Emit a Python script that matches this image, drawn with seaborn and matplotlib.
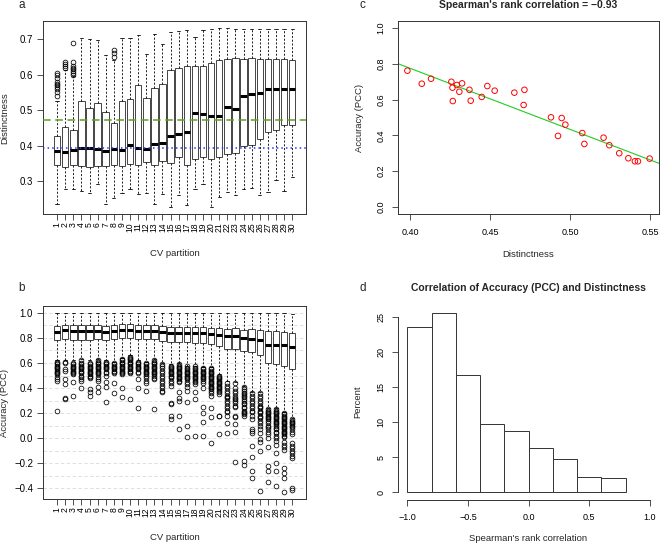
import matplotlib
matplotlib.use("Agg")
import matplotlib.pyplot as plt
import seaborn as sns
import numpy as np

sns.set_style("ticks")
plt.rcParams["font.family"] = ["Liberation Sans", "DejaVu Sans"]

partitions = list(range(1, 31))

# a: distinctness per CV partition
a_whislo = [0.235, 0.277, 0.279, 0.272, 0.268, 0.291, 0.235, 0.253, 0.268, 0.277,
            0.265, 0.268, 0.237, 0.265, 0.228, 0.262, 0.232, 0.277, 0.291, 0.228,
            0.257, 0.270, 0.262, 0.277, 0.281, 0.262, 0.269, 0.305, 0.273, 0.312]
a_q1 = [0.345, 0.340, 0.347, 0.344, 0.340, 0.344, 0.344, 0.345, 0.342, 0.350,
        0.347, 0.355, 0.347, 0.358, 0.352, 0.367, 0.347, 0.364, 0.369, 0.364,
        0.369, 0.378, 0.380, 0.400, 0.403, 0.418, 0.440, 0.445, 0.459, 0.458]
a_med = [0.384, 0.381, 0.389, 0.394, 0.393, 0.392, 0.384, 0.392, 0.389, 0.403,
         0.393, 0.391, 0.405, 0.407, 0.426, 0.433, 0.438, 0.492, 0.490, 0.483,
         0.485, 0.509, 0.503, 0.541, 0.545, 0.547, 0.560, 0.560, 0.560, 0.560]
a_q3 = [0.426, 0.452, 0.445, 0.527, 0.506, 0.520, 0.495, 0.464, 0.526, 0.531,
        0.570, 0.535, 0.563, 0.573, 0.612, 0.618, 0.624, 0.623, 0.624, 0.633,
        0.641, 0.645, 0.647, 0.643, 0.646, 0.645, 0.645, 0.645, 0.645, 0.642]
a_whishi = [0.525, 0.612, 0.595, 0.702, 0.700, 0.698, 0.656, 0.640, 0.703, 0.703,
            0.712, 0.659, 0.714, 0.686, 0.720, 0.723, 0.725, 0.705, 0.725, 0.728,
            0.730, 0.730, 0.729, 0.729, 0.729, 0.728, 0.728, 0.728, 0.728, 0.728]
a_fliers = [[0.54, 0.55, 0.56, 0.565, 0.57, 0.575, 0.58, 0.59, 0.60, 0.605],
            [0.62, 0.625, 0.63, 0.635],
            [0.60, 0.605, 0.61, 0.615, 0.62, 0.625, 0.635, 0.69],
            [], [], [], [],
            [0.65, 0.66, 0.67]] + [[] for _ in range(22)]
a_green = 0.472
a_blue = 0.395

# b: accuracy (PCC) per CV partition
b_whislo = [0.62, 0.62, 0.62, 0.63, 0.62, 0.63, 0.62, 0.61, 0.64, 0.66,
            0.62, 0.61, 0.63, 0.60, 0.59, 0.60, 0.58, 0.58, 0.57, 0.57,
            0.51, 0.46, 0.45, 0.42, 0.37, 0.37, 0.24, 0.24, 0.21, 0.16]
b_q1 = [0.782, 0.793, 0.787, 0.787, 0.782, 0.792, 0.787, 0.792, 0.800, 0.803,
        0.790, 0.792, 0.792, 0.779, 0.766, 0.766, 0.766, 0.760, 0.760, 0.755,
        0.734, 0.715, 0.715, 0.694, 0.686, 0.667, 0.601, 0.595, 0.574, 0.556]
b_med = [0.848, 0.862, 0.859, 0.856, 0.854, 0.859, 0.851, 0.856, 0.862, 0.862,
         0.854, 0.856, 0.859, 0.845, 0.840, 0.843, 0.840, 0.840, 0.838, 0.832,
         0.827, 0.819, 0.814, 0.800, 0.795, 0.787, 0.747, 0.742, 0.742, 0.729]
b_q3 = [0.893, 0.907, 0.907, 0.907, 0.907, 0.907, 0.899, 0.904, 0.912, 0.915,
        0.901, 0.907, 0.904, 0.893, 0.885, 0.888, 0.888, 0.885, 0.885, 0.883,
        0.880, 0.872, 0.877, 0.867, 0.872, 0.867, 0.859, 0.854, 0.848, 0.840]
b_whishi = [1.0] * 29 + [0.99]
b_fliers = [
    [0.61, 0.60, 0.59, 0.58, 0.57, 0.56, 0.55, 0.54, 0.53, 0.52, 0.51, 0.49, 0.47, 0.46, 0.22],
    [0.61, 0.60, 0.55, 0.54, 0.47, 0.43, 0.32, 0.31],
    [0.60, 0.59, 0.58, 0.57, 0.56, 0.55, 0.54, 0.53, 0.52, 0.51, 0.45, 0.34],
    [0.62, 0.60, 0.59, 0.58, 0.57, 0.56, 0.55, 0.54, 0.53, 0.52, 0.50, 0.49, 0.47, 0.46, 0.40],
    [0.60, 0.59, 0.58, 0.57, 0.56, 0.55, 0.54, 0.53, 0.52, 0.51, 0.50, 0.49, 0.48, 0.39, 0.37, 0.34],
    [0.62, 0.61, 0.60, 0.59, 0.58, 0.57, 0.56, 0.55, 0.54, 0.53, 0.52, 0.51, 0.49, 0.47, 0.46, 0.41, 0.37],
    [0.61, 0.60, 0.59, 0.58, 0.57, 0.56, 0.55, 0.53, 0.52, 0.50, 0.45, 0.41, 0.29],
    [0.60, 0.59, 0.58, 0.57, 0.56, 0.55, 0.54, 0.53, 0.52, 0.44, 0.36],
    [0.63, 0.62, 0.61, 0.60, 0.59, 0.58, 0.57, 0.56, 0.55, 0.54, 0.53, 0.52, 0.51, 0.40, 0.33],
    [0.65, 0.64, 0.63, 0.62, 0.61, 0.60, 0.59, 0.58, 0.57, 0.56, 0.55, 0.54, 0.53, 0.52, 0.31],
    [0.61, 0.60, 0.59, 0.58, 0.57, 0.56, 0.55, 0.53, 0.52, 0.47, 0.40, 0.24],
    [0.60, 0.59, 0.58, 0.57, 0.56, 0.55, 0.54, 0.53, 0.52, 0.51, 0.50, 0.48, 0.46, 0.44, 0.38],
    [0.62, 0.61, 0.60, 0.59, 0.58, 0.57, 0.56, 0.55, 0.54, 0.53, 0.52, 0.51, 0.50, 0.48, 0.47, 0.23],
    [0.59, 0.58, 0.56, 0.54, 0.52, 0.50, 0.48, 0.46, 0.44, 0.42, 0.40, 0.38, 0.37],
    [0.58, 0.57, 0.56, 0.55, 0.54, 0.53, 0.52, 0.51, 0.50, 0.49, 0.48, 0.46, 0.44, 0.42, 0.28, 0.27, 0.18, 0.15],
    [0.59, 0.58, 0.57, 0.56, 0.55, 0.54, 0.53, 0.52, 0.51, 0.50, 0.49, 0.48, 0.47, 0.46, 0.45, 0.37, 0.32, 0.30, 0.18, 0.07],
    [0.575, 0.56, 0.55, 0.54, 0.53, 0.52, 0.51, 0.50, 0.49, 0.48, 0.47, 0.45, 0.43, 0.41, 0.38, 0.29, 0.10, 0.01],
    [0.575, 0.56, 0.55, 0.54, 0.53, 0.52, 0.51, 0.50, 0.49, 0.48, 0.47, 0.46, 0.45, 0.43, 0.37, 0.31, 0.02],
    [0.56, 0.55, 0.54, 0.53, 0.52, 0.51, 0.50, 0.49, 0.48, 0.47, 0.46, 0.44, 0.40, 0.25, 0.20, 0.13, 0.02],
    [0.56, 0.55, 0.54, 0.53, 0.52, 0.51, 0.50, 0.49, 0.48, 0.47, 0.46, 0.45, 0.44, 0.43, 0.42, 0.41,
     0.40, 0.39, 0.38, 0.36, 0.34, 0.24, 0.17, -0.04],
    [0.50, 0.49, 0.48, 0.47, 0.46, 0.45, 0.44, 0.43, 0.42, 0.41, 0.40, 0.39, 0.38, 0.37, 0.35, 0.18, 0.175, 0.035],
    [0.44, 0.42, 0.40, 0.38, 0.36, 0.34, 0.33, 0.32, 0.30, 0.28, 0.26, 0.24, 0.22, 0.21, 0.18, 0.125, 0.04],
    [0.44, 0.40, 0.38, 0.36, 0.34, 0.32, 0.31, 0.30, 0.28, 0.26, 0.25, 0.18, 0.17, 0.11, 0.05, -0.19],
    [0.41, 0.39, 0.38, 0.36, 0.35, 0.34, 0.33, 0.31, 0.30, 0.28, 0.27, 0.25, 0.24, 0.22, 0.21, 0.20,
     0.19, 0.18, -0.18, -0.21],
    [0.36, 0.34, 0.32, 0.30, 0.28, 0.26, 0.24, 0.22, 0.21, 0.18, 0.15, 0.07, 0.06, 0.045, -0.06,
     -0.15, -0.26, -0.32],
    [0.36, 0.34, 0.32, 0.30, 0.28, 0.26, 0.25, 0.24, 0.22, 0.21, 0.20, 0.18, 0.17, 0.16, 0.14, 0.12,
     0.10, 0.07, 0.04, -0.01, -0.03, -0.10, -0.42],
    [0.23, 0.22, 0.21, 0.20, 0.19, 0.18, 0.17, 0.16, 0.15, 0.14, 0.12, 0.10, 0.09, 0.07, 0.05, 0.03,
     0.0, -0.07, -0.22, -0.26, -0.35],
    [0.23, 0.22, 0.21, 0.20, 0.19, 0.18, 0.17, 0.16, 0.15, 0.14, 0.13, 0.12, 0.11, 0.10, 0.08, 0.07,
     0.05, 0.04, 0.02, 0.0, -0.02, -0.05, -0.12, -0.195, -0.26, -0.38],
    [0.20, 0.19, 0.18, 0.17, 0.16, 0.15, 0.14, 0.13, 0.12, 0.11, 0.10, 0.09, 0.08, 0.07, 0.06, 0.05,
     0.04, 0.03, 0.02, 0.01, -0.03, -0.05, -0.07, -0.09, -0.24, -0.28, -0.32, -0.43],
    [0.15, 0.14, 0.13, 0.12, 0.11, 0.10, 0.09, 0.07, 0.05, 0.03, -0.04, -0.06, -0.08, -0.10, -0.12,
     -0.14, -0.16, -0.40, -0.41],
]
b_grid = [-0.4, -0.3, -0.2, -0.1, 0.0, 0.1, 0.2, 0.3, 0.4, 0.5, 0.6, 0.7, 0.8, 0.9, 1.0]

# c: mean distinctness vs accuracy per partition
c_dist = [0.3983, 0.4073, 0.4131, 0.4258, 0.4265, 0.4267, 0.4292, 0.4308, 0.4325, 0.4371,
          0.4379, 0.4448, 0.4483, 0.4529, 0.4652, 0.4715, 0.4710, 0.4881, 0.4925, 0.4948,
          0.4971, 0.5077, 0.5090, 0.5210, 0.5246, 0.5308, 0.5365, 0.5406, 0.5425, 0.5498]
c_acc = [0.762, 0.689, 0.717, 0.700, 0.667, 0.592, 0.682, 0.644, 0.691, 0.655,
         0.594, 0.615, 0.676, 0.650, 0.639, 0.655, 0.570, 0.501, 0.397, 0.497,
         0.460, 0.413, 0.352, 0.387, 0.345, 0.300, 0.272, 0.255, 0.255, 0.270]

# d: histogram of spearman correlations
d_edges = [-1.0, -0.8, -0.6, -0.4, -0.2, 0.0, 0.2, 0.4, 0.6, 0.8]
d_percent = [23.6, 25.6, 16.8, 9.8, 8.8, 6.4, 4.8, 2.2, 2.0]

W, H = 660, 545
fig = plt.figure(figsize=(W / 100, H / 100), dpi=100)


def px(x, y):
    return x / W, 1 - y / H


TICK = 6.5
LAB = 6.8
EDGE = "#333333"


def style_axes(ax):
    for s in ax.spines.values():
        s.set_linewidth(0.7)
        s.set_color(EDGE)
    ax.tick_params(length=4.3, width=0.6, color=EDGE, labelsize=TICK, colors="black")


def draw_boxes(ax, lo, q1, med, q3, hi, fl):
    stats = [dict(label=str(p), whislo=lo[i], q1=q1[i], med=med[i], q3=q3[i],
                  whishi=hi[i], fliers=fl[i]) for i, p in enumerate(partitions)]
    ax.bxp(stats, positions=partitions, widths=0.8, capwidths=0.4, patch_artist=True,
           boxprops=dict(facecolor="white", edgecolor="#444444", linewidth=0.7),
           medianprops=dict(color="black", linewidth=2.2, solid_capstyle="butt"),
           whiskerprops=dict(color="black", linewidth=0.6, linestyle=(0, (2.5, 2))),
           capprops=dict(color="black", linewidth=0.6),
           flierprops=dict(marker="o", markersize=3.4, markerfacecolor="none",
                           markeredgecolor="black", markeredgewidth=0.55))
    ax.set_xlim(-0.7, 31.7)
    ax.set_xticks(partitions)
    ax.set_xticklabels([str(p) for p in partitions], rotation=90, va="top", ha="center",
                       fontsize=6.2)
    ax.tick_params(axis="x", pad=1.5)
    ax.tick_params(axis="y", pad=3.0, labelsize=6.9)


# panel a
ax_a = fig.add_axes([43.3 / W, 1 - 214 / H, 262.7 / W, 192.7 / H])
style_axes(ax_a)
draw_boxes(ax_a, a_whislo, a_q1, a_med, a_q3, a_whishi, a_fliers)
ax_a.axhline(a_green, color="#5f9f1f", linewidth=1.1, linestyle=(0, (5, 3)), zorder=5)
ax_a.axhline(a_blue, color="#3030ff", linewidth=1.1, linestyle=(0, (1, 2)), zorder=5)
ax_a.set_ylim(0.208, 0.750)
ax_a.set_yticks([0.3, 0.4, 0.5, 0.6, 0.7])
ax_a.set_yticklabels(["0.3", "0.4", "0.5", "0.6", "0.7"])

# panel b
ax_b = fig.add_axes([43.3 / W, 1 - 499.3 / H, 262.7 / W, 193.6 / H])
style_axes(ax_b)
for g in b_grid:
    ax_b.axhline(g, color="#d9d9d9", linewidth=0.6, linestyle=(0, (4, 3)), zorder=0)
draw_boxes(ax_b, b_whislo, b_q1, b_med, b_q3, b_whishi, b_fliers)
ax_b.set_ylim(-0.487, 1.057)
ax_b.set_yticks([-0.4, -0.2, 0.0, 0.2, 0.4, 0.6, 0.8, 1.0])
ax_b.set_yticklabels(["\u22120.4", "\u22120.2", "0.0", "0.2", "0.4", "0.6", "0.8", "1.0"])

# panel c
ax_c = fig.add_axes([397.7 / W, 1 - 214 / H, 261.6 / W, 193 / H])
style_axes(ax_c)
ax_c.scatter(c_dist, c_acc, s=16, facecolors="none", edgecolors="red", linewidths=0.7, zorder=3)
xr = max(c_dist) - min(c_dist)
xlim_c = (min(c_dist) - 0.04 * xr, max(c_dist) + 0.04 * xr)
ax_c.set_xlim(*xlim_c)
sns.regplot(x=np.array(c_dist), y=np.array(c_acc), ax=ax_c, scatter=False, ci=None,
            truncate=False, line_kws=dict(color="#22cc22", linewidth=0.8))
ax_c.set_xlim(*xlim_c)
ax_c.set_ylim(-0.04, 1.04)
ax_c.set_xticks([0.40, 0.45, 0.50, 0.55])
ax_c.set_xticklabels(["0.40", "0.45", "0.50", "0.55"])
ax_c.set_yticks([0.0, 0.2, 0.4, 0.6, 0.8, 1.0])
ax_c.set_yticklabels(["0.0", "0.2", "0.4", "0.6", "0.8", "1.0"], rotation=90, va="center")
ax_c.tick_params(axis="x", pad=5.5)
ax_c.tick_params(axis="y", pad=4.5)
ax_c.set_xlabel("")
ax_c.set_ylabel("")

# panel d
ax_d = fig.add_axes([397.7 / W, 1 - 499.5 / H, 262 / W, 193.5 / H])
style_axes(ax_d)
sns.histplot(x=d_edges[:-1], weights=d_percent, bins=d_edges, ax=ax_d, color="white",
             edgecolor=EDGE, linewidth=0.7, alpha=1)
ax_d.set_xlim(-1.08, 1.08)
ax_d.set_ylim(-1.02, 26.6)
for s in ["top", "right"]:
    ax_d.spines[s].set_visible(False)
ax_d.spines["left"].set_bounds(0, 25)
ax_d.spines["bottom"].set_bounds(-1, 1)
ax_d.set_xticks([-1.0, -0.5, 0.0, 0.5, 1.0])
ax_d.set_xticklabels(["\u22121.0", "\u22120.5", "0.0", "0.5", "1.0"])
ax_d.set_yticks([0, 5, 10, 15, 20, 25])
ax_d.set_yticklabels(["0", "5", "10", "15", "20", "25"], rotation=90, va="center")
ax_d.tick_params(axis="x", pad=5.5)
ax_d.tick_params(axis="y", pad=4.5)
ax_d.set_xlabel("")
ax_d.set_ylabel("")

# texts
fig.text(*px(18.5, 7.8), "a", fontsize=8.5, va="baseline")
fig.text(*px(18.5, 291), "b", fontsize=8.5, va="baseline")
fig.text(*px(359, 7.8), "c", fontsize=8.5, va="baseline")
fig.text(*px(359, 291), "d", fontsize=8.5, va="baseline")

fig.text(*px(528.5, 7.8), "Spearman's rank correlation = \u22120.93", fontsize=7.5,
         fontweight="bold", ha="center", va="baseline")
fig.text(*px(528.5, 291), "Correlation of Accuracy (PCC) and Distinctness", fontsize=7.5,
         fontweight="bold", ha="center", va="baseline")

fig.text(*px(174.7, 256), "CV partition", fontsize=LAB, ha="center", va="baseline")
fig.text(*px(174.7, 540), "CV partition", fontsize=LAB, ha="center", va="baseline")
fig.text(*px(528.5, 257), "Distinctness", fontsize=LAB, ha="center", va="baseline")
fig.text(*px(528.5, 541), "Spearman's rank correlation", fontsize=LAB, ha="center", va="baseline")

fig.text(*px(4.5, 117.7), "Distinctness", fontsize=LAB, rotation=90, ha="center", va="center")
fig.text(*px(4.5, 402.5), "Accuracy (PCC)", fontsize=LAB, rotation=90, ha="center", va="center")
fig.text(*px(359, 117.5), "Accuracy (PCC)", fontsize=LAB, rotation=90, ha="center", va="center")
fig.text(*px(358, 402), "Percent", fontsize=LAB, rotation=90, ha="center", va="center")

fig.savefig("out.png", dpi=100)
